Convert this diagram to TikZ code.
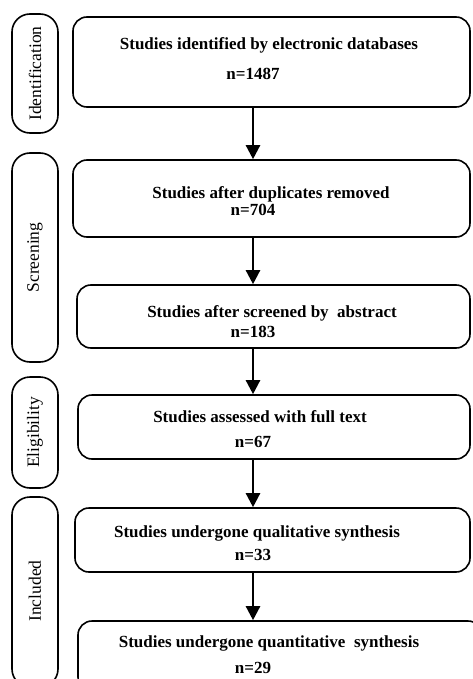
\documentclass[tikz,border=0pt]{standalone}
\usepackage{fontspec}
\setmainfont{Liberation Serif}
\usetikzlibrary{arrows.meta}
\begin{document}
\begin{tikzpicture}[x=1pt,y=-1pt]
                \tikzset{stepbox/.style={draw,line width=1.6pt,rounded corners=14pt,inner sep=0pt},
                         phase/.style={draw,line width=1.6pt,rounded corners=18pt,inner sep=0pt,minimum width=46pt},
                         title/.style={anchor=base,font=\bfseries\fontsize{17}{19}\selectfont},
                         phaselabel/.style={rotate=90,font=\fontsize{17.5}{19}\selectfont},
                         flow/.style={line width=2.4pt,-{Triangle[width=14pt,length=14pt]}}}
                \useasboundingbox (0,0) rectangle (472,679);
                % phases
                \node[phase,minimum height=119pt] (p1) at (35,73.5) {};
                \node[phaselabel] (l1) at (p1) {Identification};
                \node[phase,minimum height=209pt] (p2) at (35,257.5) {};
                \node[phaselabel] (l2) at (p2) {Screening};
                \node[phase,minimum height=111pt] (p3) at (35,432.5) {};
                \node[phaselabel] (l3) at (p3) {Eligibility};
                \node[phase,minimum height=190pt] (p4) at (35,592) {};
                \node[phaselabel] (l4) at (35,591) {Included};
                % boxes
                \node[stepbox,minimum width=397pt,minimum height=90pt] (b1) at (271.5,62) {};
                \node[title] (t1) at (269,50) {Studies identified by electronic databases};
                \node[title] (n1) at (253,80) {n=1487};
                \node[stepbox,minimum width=397pt,minimum height=77pt] (b2) at (271.5,198.5) {};
                \node[title] (t2) at (271,198) {Studies after duplicates removed};
                \node[title] (n2) at (253,215) {n=704};
                \node[stepbox,minimum width=393pt,minimum height=63pt] (b3) at (273.5,316.5) {};
                \node[title] (t3) at (272,317) {Studies after screened by~ abstract};
                \node[title] (n3) at (253,337) {n=183};
                \node[stepbox,minimum width=392pt,minimum height=64pt] (b4) at (274,427) {};
                \node[title] (t4) at (260,422) {Studies assessed with full text};
                \node[title] (n4) at (253,447) {n=67};
                \node[stepbox,minimum width=395pt,minimum height=64pt] (b5) at (272.5,540) {};
                \node[title] (t5) at (257,537) {Studies undergone qualitative synthesis};
                \node[title] (n5) at (253,560) {n=33};
                \node[stepbox,minimum width=404pt,minimum height=70pt] (b6) at (280,656) {};
                \node[title] (t6) at (269,647) {Studies undergone quantitative~ synthesis};
                \node[title] (n6) at (253,673) {n=29};
                % arrows
                \draw[flow] (b1.south -| n1) -- (b2.north -| n1);
                \draw[flow] (b2.south -| n2) -- (b3.north -| n2);
                \draw[flow] (b3.south -| n3) -- (b4.north -| n3);
                \draw[flow] (b4.south -| n4) -- (b5.north -| n4);
                \draw[flow] (b5.south -| n5) -- (b6.north -| n5);
            \end{tikzpicture}
\end{document}
